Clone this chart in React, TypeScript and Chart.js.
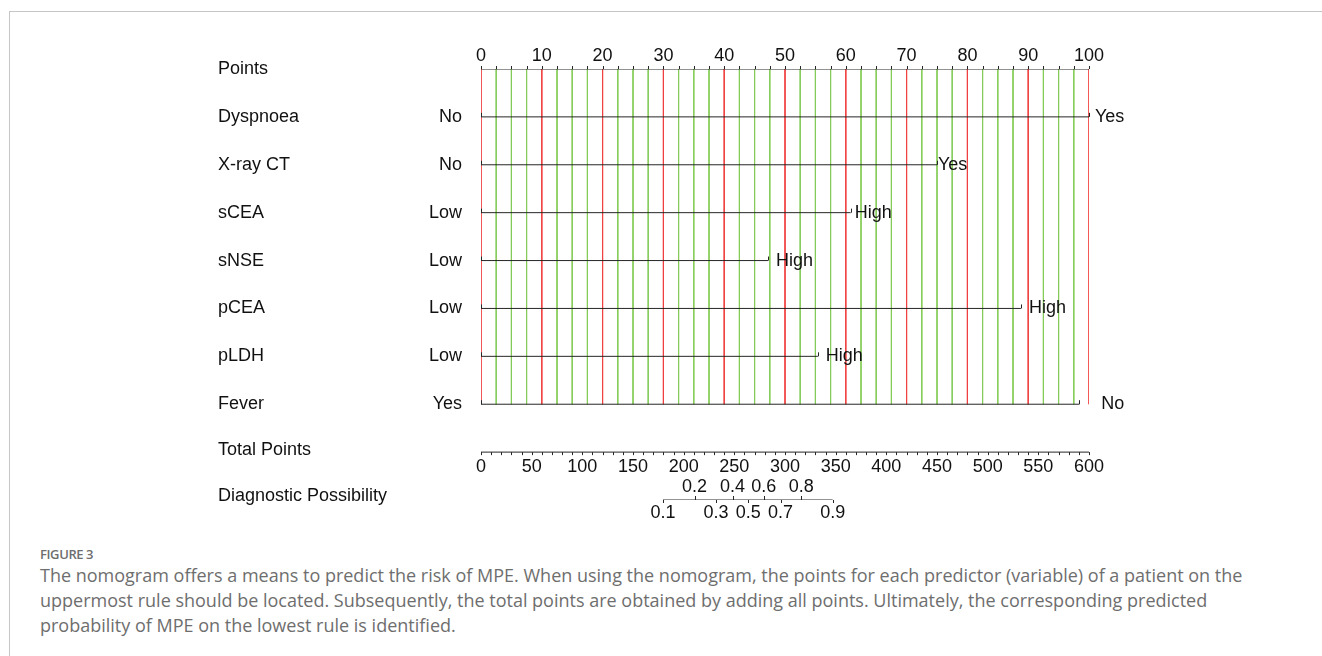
import React, { useEffect, useRef } from "react";
import { Chart, registerables } from "chart.js";

Chart.register(...registerables);

// ---- data ----
const pointLabels = [0, 10, 20, 30, 40, 50, 60, 70, 80, 90, 100];
const pointMinorStep = 2.5;

const variableNames = ["Dyspnoea", "X-ray CT", "sCEA", "sNSE", "pCEA", "pLDH", "Fever"];
const lowLabels = ["No", "No", "Low", "Low", "Low", "Low", "Yes"];
const highLabels = ["Yes", "Yes", "High", "High", "High", "High", "No"];
const maxPoints = [100, 75.0, 60.8, 47.2, 88.8, 55.4, 98.4];

const totalLabels = [0, 50, 100, 150, 200, 250, 300, 350, 400, 450, 500, 550, 600];
const totalMinorStep = 10;

const probLabels = ["0.1", "0.2", "0.3", "0.4", "0.5", "0.6", "0.7", "0.8", "0.9"];
const probTotals = [179.6, 210.7, 231.8, 248.2, 263.7, 279.1, 295.6, 316.1, 347.1];

const captionTitle = "FIGURE 3";
const captionLines = [
  "The nomogram offers a means to predict the risk of MPE. When using the nomogram, the points for each predictor (variable) of a patient on the",
  "uppermost rule should be located. Subsequently, the total points are obtained by adding all points. Ultimately, the corresponding predicted",
  "probability of MPE on the lowest rule is identified.",
];

// ---- styling ----
const RED = "#f04040";
const GREEN = "#86cc5a";
const INK = "#111111";
const LINE = "#262626";
const FONT = '18px "Liberation Sans", Arial, sans-serif';
const rightGaps = [6, 1, 4, 8, 8, 8, 22];

export default function App() {
  const canvasRef = useRef<HTMLCanvasElement | null>(null);

  useEffect(() => {
    const canvas = canvasRef.current;
    if (!canvas) return;

    const minorTicks: number[] = [];
    for (let v = 0; v <= 100 + 1e-9; v += pointMinorStep) minorTicks.push(v);
    const totalTicks: number[] = [];
    for (let v = 0; v <= 600 + 1e-9; v += totalMinorStep) totalTicks.push(v);

    const datasets: any[] = [];
    minorTicks.forEach((v) => {
      const major = pointLabels.includes(v);
      datasets.push({
        type: "line",
        data: [{ x: v, y: 0 }, { x: v, y: 7 }],
        borderColor: major ? RED : GREEN,
        borderWidth: 1,
        pointRadius: 0,
        order: 3,
      });
    });
    datasets.push({
      type: "line",
      data: [{ x: 0, y: 0 }, { x: 100, y: 0 }],
      borderColor: LINE,
      borderWidth: 1,
      pointRadius: 0,
      order: 1,
    });
    maxPoints.forEach((m, i) => {
      datasets.push({
        type: "line",
        data: [{ x: 0, y: i + 1 }, { x: m, y: i + 1 }],
        borderColor: LINE,
        borderWidth: 1,
        pointRadius: 0,
        order: 1,
      });
    });
    datasets.push({
      type: "line",
      xAxisID: "xt",
      data: [{ x: 0, y: 8 }, { x: 600, y: 8 }],
      borderColor: LINE,
      borderWidth: 1,
      pointRadius: 0,
      order: 1,
    });
    datasets.push({
      type: "line",
      xAxisID: "xt",
      data: [
        { x: probTotals[0], y: 9 },
        { x: probTotals[probTotals.length - 1], y: 9 },
      ],
      borderColor: LINE,
      borderWidth: 1,
      pointRadius: 0,
      order: 1,
    });

    const labelPlugin = {
      id: "nomoLabels",
      afterDatasetsDraw(chart: any) {
        const ctx = chart.ctx as CanvasRenderingContext2D;
        const xs = chart.scales.x;
        const xt = chart.scales.xt;
        const ys = chart.scales.y;
        const rowY = (r: number) => ys.getPixelForValue(r);
        ctx.save();
        ctx.font = FONT;
        ctx.fillStyle = INK;
        ctx.strokeStyle = LINE;
        ctx.lineWidth = 1;
        const tick = (x: number, y: number, len: number) => {
          ctx.beginPath();
          ctx.moveTo(Math.round(x) + 0.5, y);
          ctx.lineTo(Math.round(x) + 0.5, y + len);
          ctx.stroke();
        };

        ctx.textAlign = "left";
        ctx.textBaseline = "middle";
        const titleX = 218;
        ctx.fillText("Points", titleX, rowY(0));
        variableNames.forEach((n, i) => ctx.fillText(n, titleX, rowY(i + 1)));
        ctx.fillText("Total Points", titleX, rowY(8) - 2);
        ctx.fillText("Diagnostic Possibility", titleX, rowY(9) - 4);

        const y0 = rowY(0);
        minorTicks.forEach((v) => tick(xs.getPixelForValue(v), y0, -3));
        ctx.textAlign = "center";
        pointLabels.forEach((v) => ctx.fillText(String(v), xs.getPixelForValue(v), y0 - 13));

        maxPoints.forEach((m, i) => {
          const y = rowY(i + 1);
          const x0 = xs.getPixelForValue(0);
          const x1 = xs.getPixelForValue(m);
          tick(x0, y, -4);
          tick(x1, y, -4);
          ctx.textAlign = "right";
          ctx.fillText(lowLabels[i], x0 - 19, y);
          ctx.textAlign = "left";
          ctx.fillText(highLabels[i], x1 + rightGaps[i], y);
        });

        const y8 = rowY(8);
        totalTicks.forEach((v) => tick(xt.getPixelForValue(v), y8, 3));
        ctx.textAlign = "center";
        totalLabels.forEach((v) => ctx.fillText(String(v), xt.getPixelForValue(v), y8 + 15));

        const y9 = rowY(9);
        probTotals.forEach((t, i) => {
          const x = xt.getPixelForValue(t);
          if (i % 2 === 1) {
            tick(x, y9, -4);
            ctx.fillText(probLabels[i], x, y9 - 13);
          } else {
            tick(x, y9, 3);
            ctx.fillText(probLabels[i], x, y9 + 13);
          }
        });
        ctx.restore();
      },
    };

    const chart = new Chart(canvas, {
      type: "line",
      data: { datasets },
      options: {
        animation: false,
        responsive: true,
        maintainAspectRatio: false,
        layout: { padding: { left: 481, right: 233, top: 69, bottom: 40 } },
        plugins: { legend: { display: false }, tooltip: { enabled: false } },
        events: [],
        scales: {
          x: { type: "linear", min: 0, max: 100, display: false },
          xt: { type: "linear", axis: "x", min: 0, max: 600, display: false },
          y: { type: "linear", min: 0, max: 9, reverse: true, display: false },
        },
        elements: { line: { tension: 0 } },
      } as any,
      plugins: [labelPlugin],
    });
    return () => chart.destroy();
  }, []);

  return (
    <div
      style={{
        position: "fixed",
        left: 0,
        top: 0,
        width: 1322,
        height: 656,
        background: "#ffffff",
        overflow: "hidden",
      }}
    >
      <div
        style={{
          position: "absolute",
          left: 9,
          top: 11,
          right: 0,
          bottom: 0,
          borderTop: "1px solid #c6c6c6",
          borderLeft: "1px solid #c6c6c6",
        }}
      />
      <div style={{ position: "absolute", left: 0, top: 0, width: 1322, height: 540 }}>
        <canvas ref={canvasRef} />
      </div>
      <div
        style={{
          position: "absolute",
          left: 40,
          top: 546,
          fontFamily: '"Open Sans", sans-serif',
          fontSize: 13,
          fontWeight: 600,
          letterSpacing: -0.4,
          lineHeight: "16px",
          color: "#6e6e6e",
        }}
      >
        {captionTitle}
      </div>
      <div
        style={{
          position: "absolute",
          left: 40,
          top: 563,
          fontFamily: '"Open Sans", sans-serif',
          fontSize: 18,
          lineHeight: "25px",
          color: "#6e6e6e",
          whiteSpace: "nowrap",
        }}
      >
        {captionLines.map((l, i) => (
          <div key={i}>{l}</div>
        ))}
      </div>
    </div>
  );
}
